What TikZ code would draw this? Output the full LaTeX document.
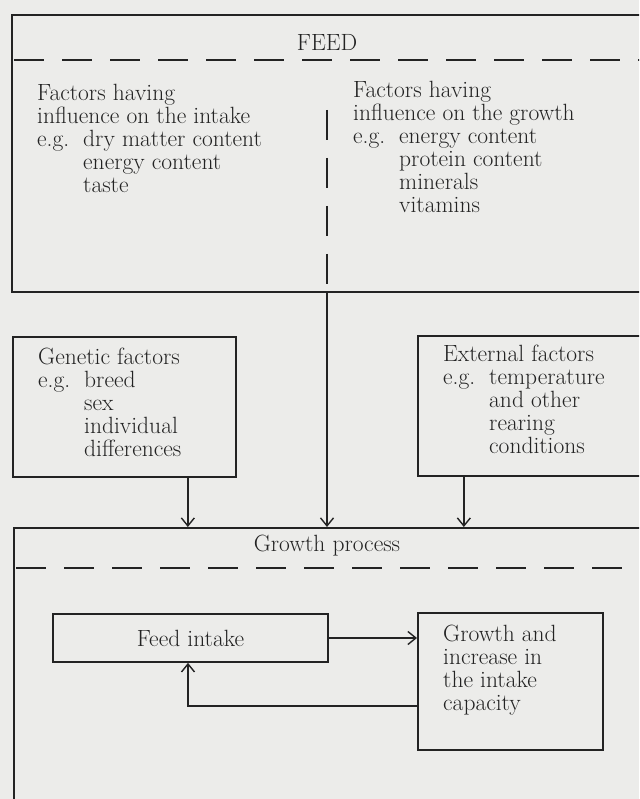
\documentclass[tikz,border=0pt]{standalone}
\usetikzlibrary{arrows.meta}
\definecolor{paper}{RGB}{236,236,234}
\definecolor{ink}{RGB}{35,35,35}
\tikzset{
  box/.style={draw=ink, line width=1.7pt, inner sep=0pt},
  txt/.style={inner sep=0pt, align=left, anchor=north west, text=ink,
    font=\fontsize{23.5}{23}\selectfont},
  sepline/.style={draw=ink, line width=1.7pt, dash pattern=on 30pt off 18pt},
  arr/.style={draw=ink, line width=1.4pt,
    -{Straight Barb[length=8pt,width=13pt,line width=1.4pt]}},
}
\newcommand{\eg}{\makebox[46pt][l]{e.g.}}
\newcommand{\egind}{\hspace*{46pt}}
\begin{document}
\begin{tikzpicture}[x=1pt,y=-1pt]
      \useasboundingbox[fill=paper] (0,0) rectangle (639,799);
      \clip (0,0) rectangle (639,799);
      % feed
      \node[box, anchor=north west, minimum width=660pt, minimum height=277pt] (feed) at (11,14) {};
      \node[txt, anchor=center] (feedtitle) at (327,42) {FEED};
      \coordinate (feedsep) at (14,60);
      \draw[sepline] (feedsep) -- (feedsep -| feed.east);
      \node[txt] (intake) at (37,84) {Factors having\\influence on the intake\\
        \eg dry matter content\\\egind energy content\\\egind taste};
      \node[txt] (growthf) at (353,81) {Factors having\\influence on the growth\\
        \eg energy content\\\egind protein content\\\egind minerals\\\egind vitamins};
      \coordinate (split) at (327,110);
      \draw[sepline] (split) -- (split |- feed.south);
      % genetic and external
      \node[box, anchor=north west, minimum width=223pt, minimum height=140pt] (genetic) at (12,336) {};
      \node[txt] (genetictext) at (38,348) {Genetic factors\\\eg breed\\\egind sex\\
        \egind individual\\\egind differences};
      \node[box, anchor=north west, minimum width=243pt, minimum height=140pt] (external) at (417,335) {};
      \node[txt] (externaltext) at (443,345) {External factors\\\eg temperature\\
        \egind and other\\\egind rearing\\\egind conditions};
      % growth process
      \node[box, anchor=north west, minimum width=660pt, minimum height=300pt] (growth) at (13,527) {};
      \node[txt, anchor=center] (growthtitle) at (327,546) {Growth process};
      \coordinate (growthsep) at (16,568);
      \draw[sepline] (growthsep) -- (growthsep -| growth.east);
      \node[box, minimum width=275pt, minimum height=48pt, text=ink,
        font=\fontsize{23.5}{23}\selectfont] (feedintake) at (190.5,638) {Feed intake};
      \node[box, anchor=north west, minimum width=185pt, minimum height=137pt] (capacity) at (417,612) {};
      \node[txt] (capacitytext) at (443,625) {Growth and\\increase in\\the intake\\capacity};
      % connectors
      \draw[arr] (split |- feed.south) -- (split |- growth.north);
      \draw[arr] ([xshift=63.5pt]genetic.south) -- ([xshift=63.5pt]genetic.south |- growth.north);
      \draw[arr] ([xshift=-75.5pt]external.south) -- ([xshift=-75.5pt]external.south |- growth.north);
      \draw[arr] (feedintake.east) -- (feedintake.east -| capacity.west);
      \coordinate (loop) at (188,706);
      \draw[arr] (loop -| capacity.west) -- (loop) -- (loop |- feedintake.south);
    \end{tikzpicture}
\end{document}
